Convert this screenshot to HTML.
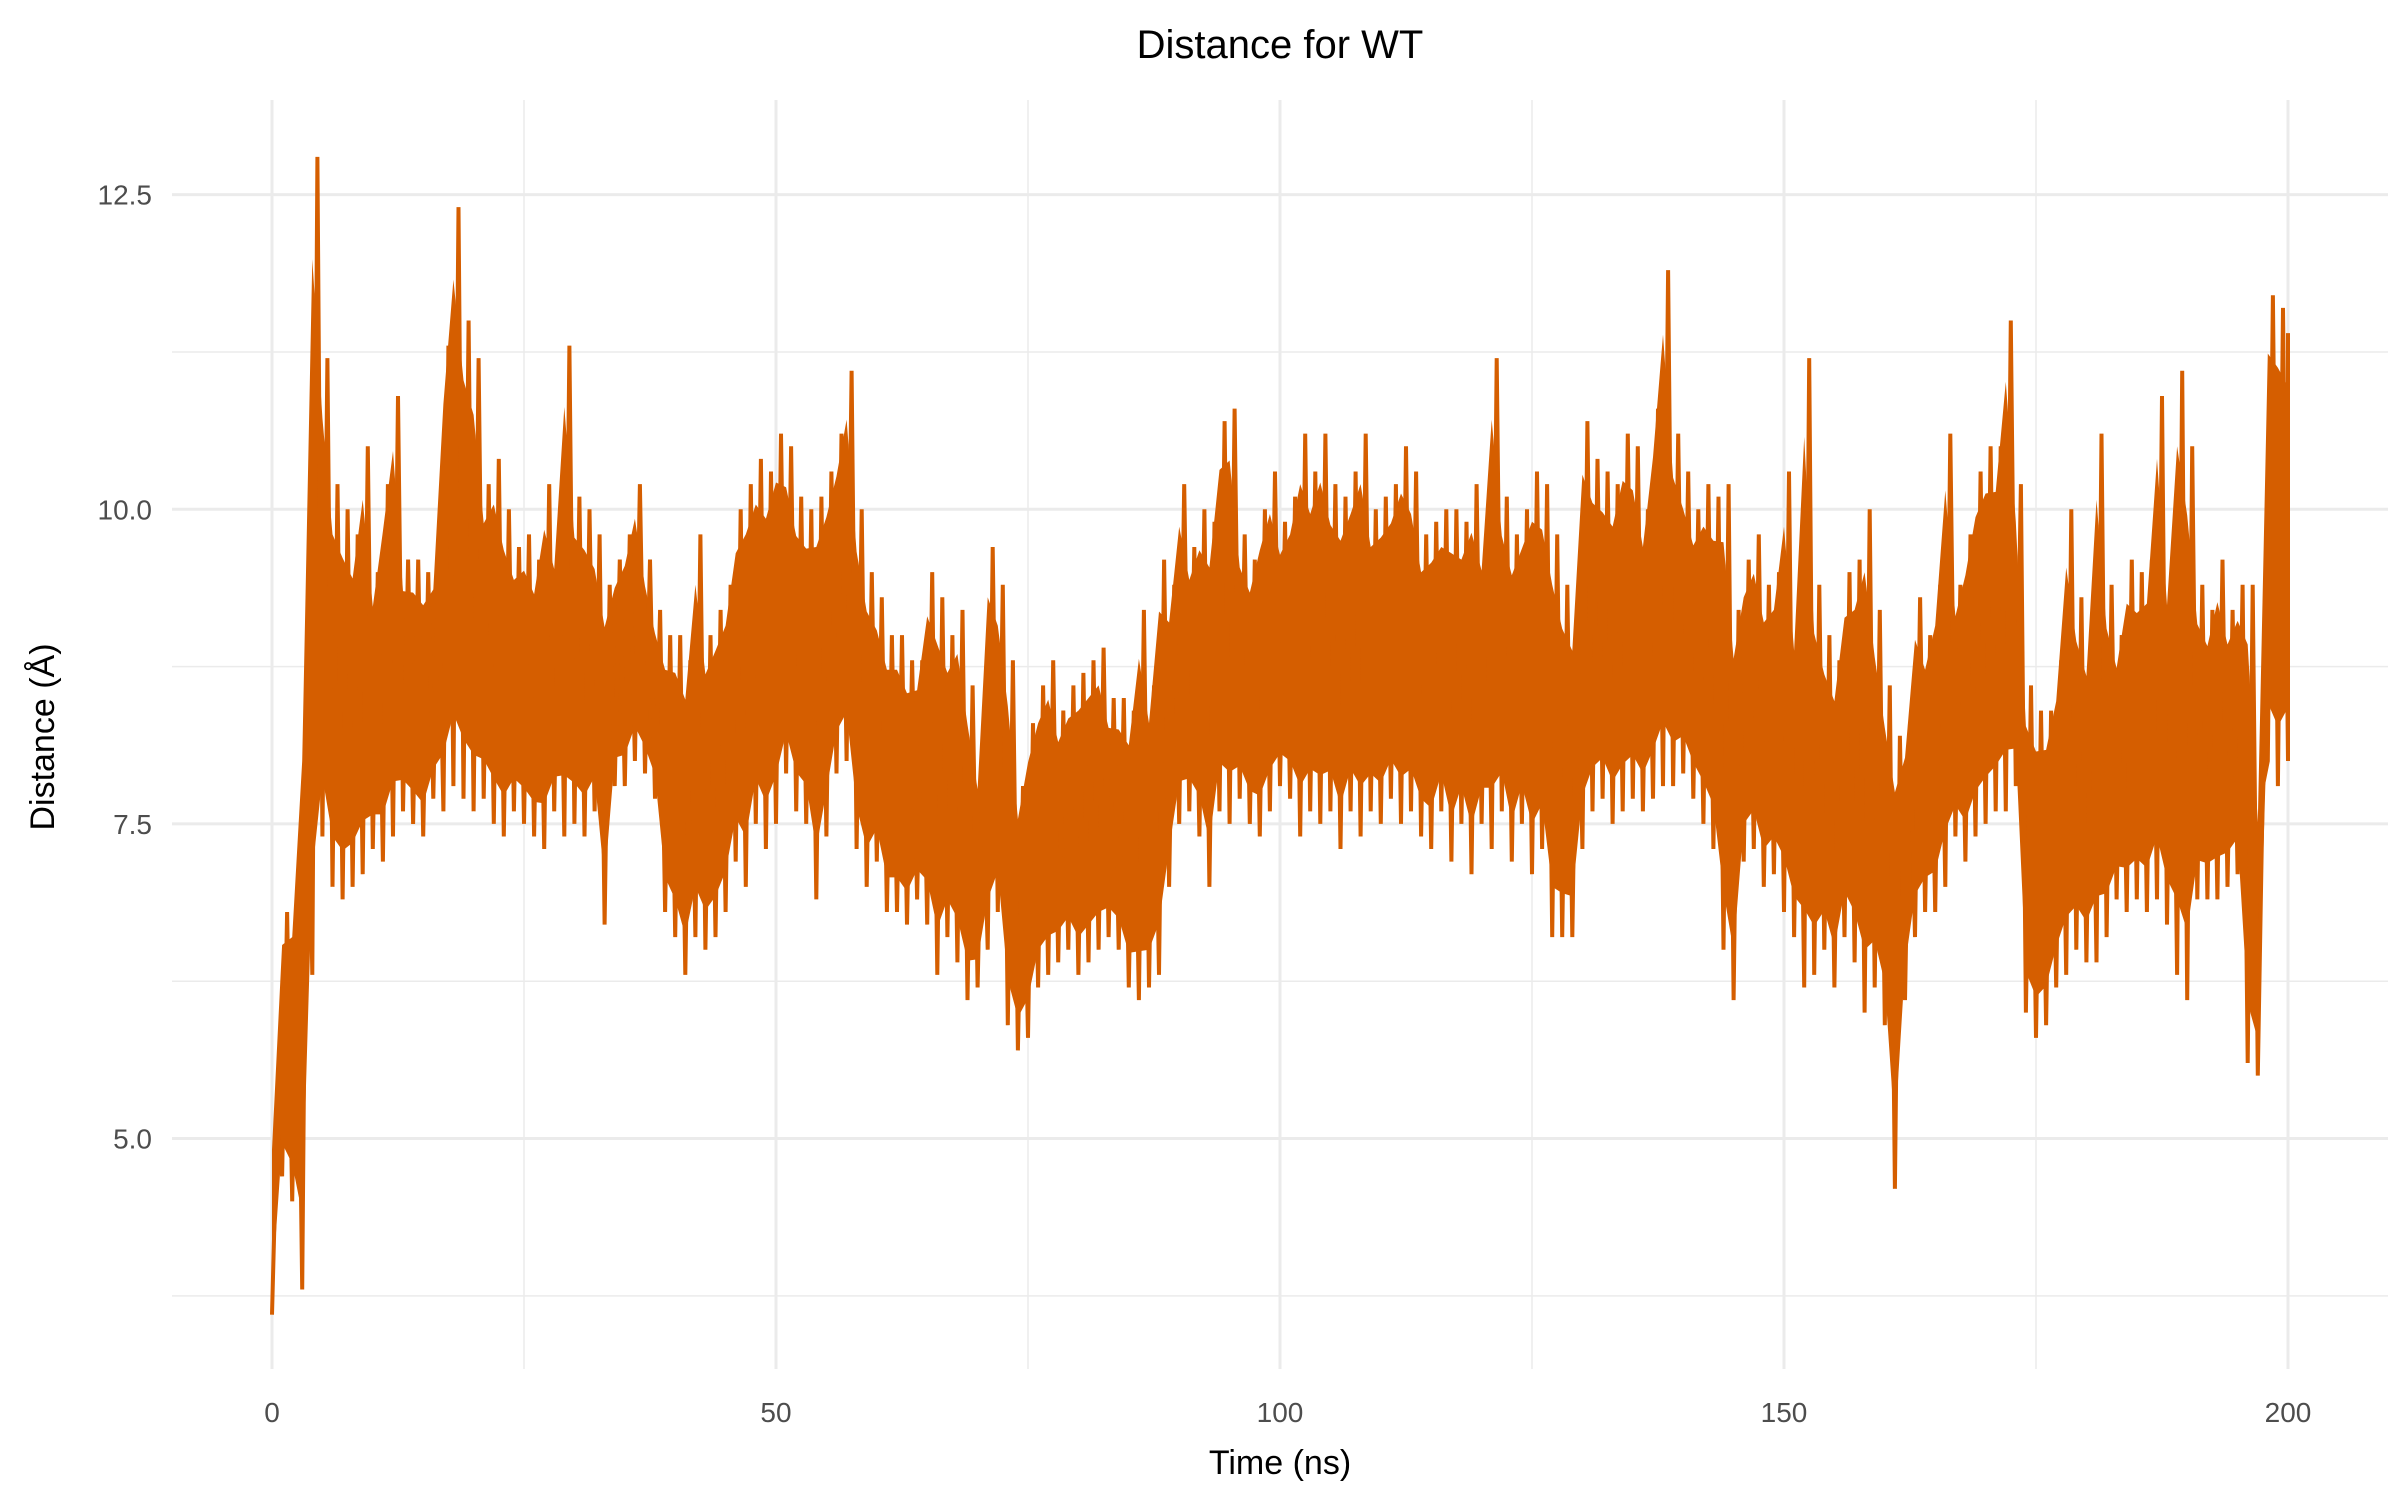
<!DOCTYPE html>
<html><head><meta charset="utf-8">
<style>
html,body{margin:0;padding:0;background:#fff;}
svg{display:block;font-family:"Liberation Sans",sans-serif;}
</style></head>
<body>
<svg id="chart" width="2400" height="1500" viewBox="0 0 2400 1500" xmlns="http://www.w3.org/2000/svg">
<rect width="2400" height="1500" fill="#fff"/>
<g id="grid"></g>
<g id="series"></g>
<g id="axes"></g>
<text x="1280" y="58" text-anchor="middle" font-size="40" fill="#000">Distance for WT</text>
<text x="1280" y="1474" text-anchor="middle" font-size="34" fill="#000">Time (ns)</text>
<text transform="translate(54,737) rotate(-90)" text-anchor="middle" font-size="34" fill="#000">Distance (Å)</text>
</svg>
<script>
const times = [];
for (let i = 0; i <= 200; i++) times.push(i);
const lows = [3.6,4.7,4.5,3.8,6.3,7.4,7.0,6.9,7.0,7.1,7.3,7.2,7.4,7.6,7.5,7.4,7.7,7.6,7.8,7.7,7.6,7.7,7.5,7.4,7.6,7.5,7.4,7.3,7.6,7.4,7.5,7.4,7.6,6.7,7.8,7.8,8.0,7.9,7.7,6.8,6.6,6.3,6.6,6.5,6.6,6.8,7.2,7.0,7.5,7.3,7.5,7.9,7.6,7.5,6.9,7.4,7.9,8.0,7.3,7.0,7.2,6.8,6.8,6.7,6.9,6.7,6.3,6.6,6.4,6.1,6.2,6.5,6.8,5.9,5.7,5.8,6.2,6.3,6.4,6.5,6.3,6.4,6.5,6.6,6.5,6.2,6.1,6.2,6.3,7.0,7.5,7.6,7.4,7.0,7.6,7.5,7.7,7.5,7.4,7.6,7.8,7.7,7.4,7.6,7.5,7.6,7.3,7.6,7.4,7.6,7.5,7.7,7.5,7.6,7.4,7.3,7.6,7.2,7.5,7.1,7.5,7.3,7.6,7.2,7.5,7.1,7.3,6.6,6.6,6.6,7.3,7.6,7.7,7.5,7.6,7.7,7.6,7.7,7.8,7.8,7.9,7.7,7.5,7.3,6.5,6.1,7.2,7.3,7.0,7.1,6.8,6.6,6.2,6.3,6.5,6.2,6.6,6.4,6.0,6.2,5.9,4.6,6.1,6.6,6.8,6.8,7.0,7.4,7.2,7.4,7.5,7.6,7.6,7.8,6.0,5.8,5.9,6.2,6.3,6.5,6.4,6.4,6.6,6.9,6.8,6.9,6.8,6.9,6.7,6.3,6.1,6.9,6.9,6.9,7.0,7.1,5.6,5.5,8.0,7.8,8.0];
const highs = [5.1,6.8,6.9,8.6,12.8,11.2,10.2,10.0,9.8,10.5,9.5,10.2,10.9,9.6,9.6,9.5,9.6,11.3,12.4,11.5,11.2,10.2,10.4,10.0,9.7,9.8,9.6,10.2,9.8,11.3,10.1,10.0,9.8,9.4,9.6,9.8,10.2,9.6,9.2,9.0,9.0,8.8,9.8,9.0,9.2,9.4,10.0,10.2,10.4,10.3,10.6,10.5,10.1,10.0,10.1,10.3,10.6,11.1,10.0,9.5,9.3,9.0,9.0,8.8,8.8,9.5,9.3,9.0,9.2,8.6,8.0,9.7,9.4,8.8,7.8,8.3,8.6,8.8,8.4,8.6,8.7,8.8,8.9,8.5,8.5,8.4,9.2,8.6,9.6,9.4,10.2,9.7,10.0,9.9,10.7,10.8,9.8,9.6,10.0,10.3,9.9,10.1,10.6,10.3,10.6,10.2,10.1,10.3,10.6,10.0,10.1,10.2,10.5,10.3,9.8,9.9,10.0,10.0,9.9,10.2,9.8,11.2,10.1,9.8,10.0,10.3,10.2,9.8,9.4,9.2,10.7,10.4,10.3,10.2,10.6,10.5,10.0,10.8,11.9,10.6,10.3,10.0,10.2,10.1,10.2,9.2,9.6,9.8,9.4,9.5,10.3,9.2,11.2,9.4,9.0,8.8,9.5,9.6,10.0,9.2,8.6,8.2,8.3,9.3,9.0,9.4,10.6,9.4,9.8,10.3,10.5,10.5,11.5,10.2,8.6,8.4,8.4,8.8,10.0,9.3,9.0,10.6,9.4,9.0,9.6,9.5,9.6,10.9,9.6,11.1,10.5,9.4,9.2,9.6,9.2,9.4,9.4,7.8,11.7,11.6,11.4];
const xTicks = [0,50,100,150,200];
const xTickLabels = ["0","50","100","150","200"];
const xMinor = [25,75,125,175];
const yTicks = [5,7.5,10,12.5];
const yTickLabels = ["5.0","7.5","10.0","12.5"];
const yMinor = [3.75,6.25,8.75,11.25];

const NS = "http://www.w3.org/2000/svg";
const X0 = 272, X1 = 2288, T0 = 0, T1 = 200;
const Y5 = 1138.5, PXU = 125.85;
const PL = 172, PR = 2388, PT = 100, PB = 1369;
function xs(t){ return X0 + (t - T0) * (X1 - X0) / (T1 - T0); }
function ys(v){ return Y5 - (v - 5) * PXU; }

const grid = document.getElementById('grid');
function line(parent, x1, y1, x2, y2, stroke, w, name){
  const l = document.createElementNS(NS, 'line');
  l.setAttribute('x1', x1); l.setAttribute('y1', y1);
  l.setAttribute('x2', x2); l.setAttribute('y2', y2);
  l.setAttribute('stroke', stroke); l.setAttribute('stroke-width', w);
  
  
  parent.appendChild(l);
}
yMinor.forEach(v => line(grid, PL, ys(v), PR, ys(v), '#ebebeb', 1.5, 'y-minor-gridline'));
xMinor.forEach(t => line(grid, xs(t), PT, xs(t), PB, '#ebebeb', 1.5, 'x-minor-gridline'));
yTicks.forEach(v => line(grid, PL, ys(v), PR, ys(v), '#ebebeb', 3, 'y-major-gridline'));
xTicks.forEach(t => line(grid, xs(t), PT, xs(t), PB, '#ebebeb', 3, 'x-major-gridline'));

const axes = document.getElementById('axes');
yTicks.forEach((v, i) => {
  const tx = document.createElementNS(NS, 'text');
  tx.setAttribute('x', 152); tx.setAttribute('y', ys(v) + 10);
  tx.setAttribute('text-anchor', 'end'); tx.setAttribute('font-size', '28');
  tx.setAttribute('fill', '#4d4d4d');
  
  
  tx.textContent = yTickLabels[i];
  axes.appendChild(tx);
});
xTicks.forEach((t, i) => {
  const tx = document.createElementNS(NS, 'text');
  tx.setAttribute('x', xs(t)); tx.setAttribute('y', 1422);
  tx.setAttribute('text-anchor', 'middle'); tx.setAttribute('font-size', '28');
  tx.setAttribute('fill', '#4d4d4d');
  
  
  tx.textContent = xTickLabels[i];
  axes.appendChild(tx);
});

const series = document.getElementById('series');
let bandTop = '', bandBot = '';
times.forEach((t, i) => {
  const mid = (lows[i] + highs[i]) / 2, half = (highs[i] - lows[i]) / 2;
  bandTop += (i === 0 ? 'M' : 'L') + xs(t).toFixed(1) + ',' + ys(mid + half * 0.75).toFixed(1);
});
for (let i = times.length - 1; i >= 0; i--) {
  const mid = (lows[i] + highs[i]) / 2, half = (highs[i] - lows[i]) / 2;
  bandBot += 'L' + xs(times[i]).toFixed(1) + ',' + ys(mid - half * 0.75).toFixed(1);
}
const band = document.createElementNS(NS, 'path');
band.setAttribute('d', bandTop + bandBot + 'Z');
band.setAttribute('fill', '#D55E00');


series.appendChild(band);

let d = '';
times.forEach((t, i) => {
  const a = xs(t), b = xs(t + (i < times.length - 1 ? 0.5 : 0));
  d += (i === 0 ? 'M' : 'L') + a.toFixed(1) + ',' + ys(lows[i]).toFixed(1);
  d += 'L' + b.toFixed(1) + ',' + ys(highs[i]).toFixed(1);
});
const p = document.createElementNS(NS, 'path');
p.setAttribute('d', d);
p.setAttribute('fill', 'none');
p.setAttribute('stroke', '#D55E00');
p.setAttribute('stroke-width', '4');
p.setAttribute('stroke-linejoin', 'miter');


series.appendChild(p);
</script>
</body></html>
